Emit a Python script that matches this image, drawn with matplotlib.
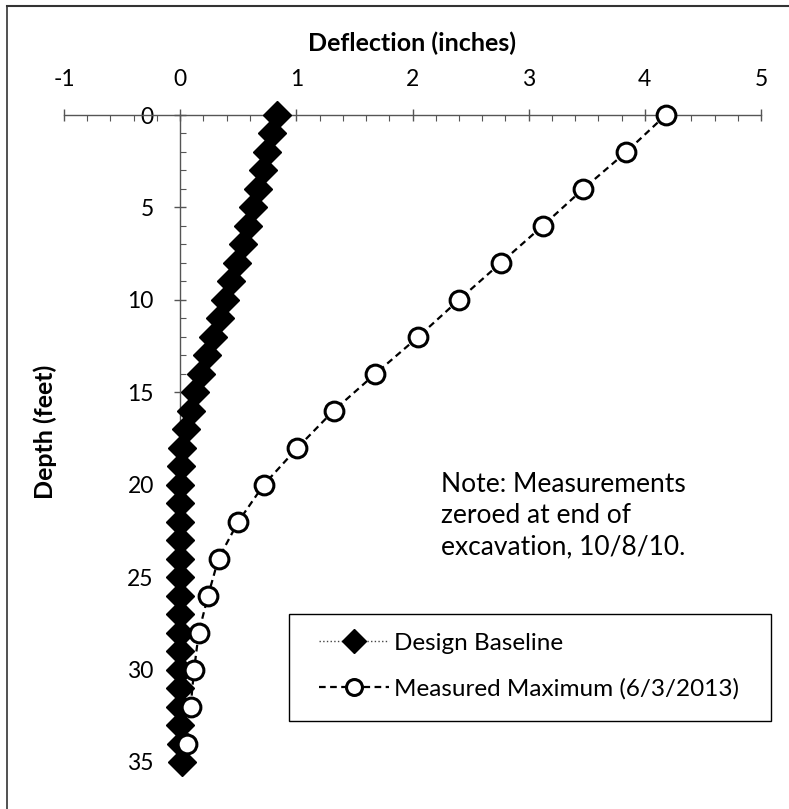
import numpy as np
import matplotlib
matplotlib.use("Agg")
import matplotlib.pyplot as plt
from matplotlib.lines import Line2D
from matplotlib.patches import Rectangle
from matplotlib.ticker import MultipleLocator

plt.rcParams['font.family'] = ['Lato', 'DejaVu Sans']
plt.rcParams['axes.unicode_minus'] = False

# data
design_depth = list(range(0, 36))
design_defl = [0.83, 0.79, 0.75, 0.71, 0.67, 0.63, 0.58, 0.54, 0.49, 0.44,
               0.39, 0.34, 0.28, 0.23, 0.18, 0.13, 0.09, 0.05, 0.02, 0.01,
               0.00, 0.00, 0.00, 0.00, 0.00, 0.00, 0.00, 0.00, 0.00, 0.00,
               0.00, 0.00, 0.00, 0.00, 0.01, 0.02]
meas_depth = list(range(0, 35, 2))
meas_defl = [4.18, 3.84, 3.47, 3.12, 2.76, 2.40, 2.05, 1.68, 1.32,
             1.01, 0.72, 0.50, 0.33, 0.24, 0.16, 0.12, 0.09, 0.06]

x_ticks = [-1, 0, 1, 2, 3, 4, 5]
y_ticks = [0, 5, 10, 15, 20, 25, 30, 35]

W, H = 789, 809
fig = plt.figure(figsize=(W / 100, H / 100), dpi=100)

# axes: x=-1 at px 64, x=5 at px 761; depth 0 at px 115, 35 at px 762
ax = fig.add_axes([64 / W, 1 - 762 / H, (761 - 64) / W, (762 - 115) / H])
ax.set_xlim(-1, 5)
ax.set_ylim(35, 0)

axis_col = '#555555'
ax.spines['right'].set_visible(False)
ax.spines['bottom'].set_visible(False)
ax.spines['left'].set_position(('data', 0))
for s in ('left', 'top'):
    ax.spines[s].set_color(axis_col)
    ax.spines[s].set_linewidth(1.0)

ax.xaxis.set_ticks_position('top')
ax.xaxis.set_label_position('top')
ax.set_xticks(x_ticks)
ax.set_yticks(y_ticks)
ax.xaxis.set_minor_locator(MultipleLocator(0.2))
ax.yaxis.set_minor_locator(MultipleLocator(1))
ax.tick_params(axis='x', which='major', direction='inout', length=8,
               width=1, color=axis_col, pad=14, labelsize=16.5)
ax.tick_params(axis='y', which='major', direction='inout', length=8,
               width=1, color=axis_col, pad=15, labelsize=16.5)
ax.tick_params(which='minor', direction='in', length=4, width=0.8,
               color=axis_col)

ax.plot(design_defl, design_depth, linestyle=':', color='#444444', lw=1,
        marker='D', markersize=14.5, markerfacecolor='black',
        markeredgecolor='black', clip_on=False, zorder=3,
        label='Design Baseline')
ax.plot(meas_defl, meas_depth, linestyle=(0, (3, 2)), color='black', lw=1.6,
        marker='o', markersize=13.5, markerfacecolor='white',
        markeredgecolor='black', markeredgewidth=2.2, clip_on=False,
        zorder=4, label='Measured Maximum (6/3/2013)')

ax.set_xlabel('Deflection (inches)', fontsize=18, fontweight='bold',
              va='center')
ax.xaxis.set_label_coords(0.5, 1 + 72 / 647)
ax.set_ylabel('Depth (feet)', fontsize=18, fontweight='bold',
              va='center', ha='center')
ax.yaxis.set_label_coords(-19 / 697, 0.51)

fig.text(441 / W, 1 - 515.5 / H,
         'Note: Measurements\nzeroed at end of\nexcavation, 10/8/10.',
         fontsize=19, va='center', ha='left', linespacing=1.3)

# legend box drawn separately so the padding matches the original
ax.add_patch(Rectangle((289 / W, 1 - 721 / H), (771 - 289) / W,
                       (721 - 614) / H, transform=fig.transFigure,
                       facecolor='white', edgecolor='black', lw=1.0,
                       clip_on=False, zorder=5))
leg = ax.legend(loc='center left', bbox_to_anchor=(319 / W, 1 - 666 / H),
                bbox_transform=fig.transFigure, fontsize=17.5,
                frameon=False, handlelength=2.9, handletextpad=0.2,
                labelspacing=1.0, borderpad=0, borderaxespad=0,
                markerscale=0.85)
leg.set_zorder(6)

# chart area border (only top and left edges visible in the crop)
fig.add_artist(Line2D([7 / W, 7 / W], [0, 1 - 6 / H],
                      transform=fig.transFigure, color='#333333', lw=1.2))
fig.add_artist(Line2D([7 / W, 1], [1 - 6 / H, 1 - 6 / H],
                      transform=fig.transFigure, color='#333333', lw=1.5))

fig.savefig('out.png', dpi=100)
